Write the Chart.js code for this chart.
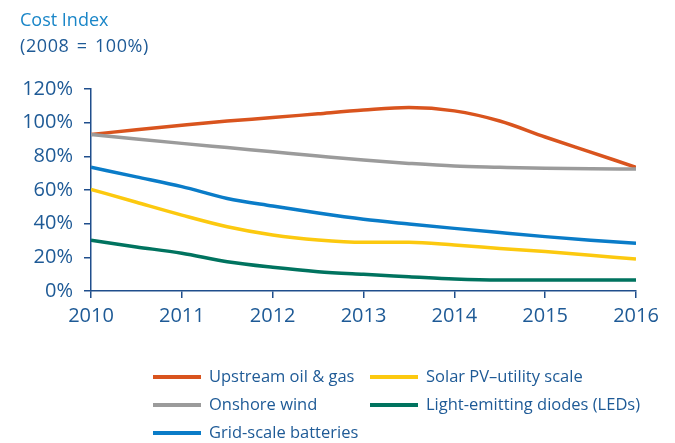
<!DOCTYPE html>
<html lang="en">
<head>
    <meta charset="UTF-8">
    <title>Cost Index</title>
    <script src="https://cdn.jsdelivr.net/npm/chart.js"></script>
    <style>
        body { margin: 0; background: #fff; font-family: "Open Sans", "Noto Sans", sans-serif; }
        #wrap { position: relative; width: 675px; height: 443px; }
        #wrap canvas { position: absolute; left: 0; top: 0; }
        .t1 { position: absolute; left: 20px; top: 7px; font-size: 18px; color: #1a86c8; }
        .t2 { position: absolute; left: 20px; top: 33px; font-size: 18px; letter-spacing: 0.6px; word-spacing: 2px; color: #1e5a96; }
        .leg { position: absolute; font-size: 16.5px; color: #1e5a96; white-space: nowrap; }
        .leg span { display: inline-block; width: 48px; height: 4px; vertical-align: middle; margin-right: 8px; position: relative; top: -1px; }
    </style>
</head>
<body>
<div id="wrap">
    <canvas id="costChart" width="675" height="443"></canvas>
    <div class="t1">Cost Index</div>
    <div class="t2">(2008 = 100%)</div>
    <div id="legend"></div>
</div>
<script>
    // half-year points, 2010 .. 2016
    var years = [2010, 2010.5, 2011, 2011.5, 2012, 2012.5, 2013, 2013.5, 2014, 2014.5, 2015, 2015.5, 2016];
    var oilGas  = [93, 95.8, 98.5, 101, 103, 105.3, 107.5, 109, 107, 101, 91.5, 82.5, 73.5];
    var wind    = [93, 90.3, 87.7, 85.2, 82.7, 80.2, 77.8, 75.8, 74.2, 73.5, 72.9, 72.6, 72.5];
    var battery = [73.5, 67.8, 62, 55, 50.5, 46.3, 42.6, 39.8, 37.2, 34.7, 32.3, 30.2, 28.3];
    var solar   = [60.4, 52.7, 45.1, 38.2, 33.3, 30.3, 28.9, 28.9, 27.3, 25.3, 23.4, 21.2, 19];
    var leds    = [30.1, 26.2, 22.4, 17.4, 14.1, 11.5, 9.9, 8.5, 7.1, 6.5, 6.5, 6.5, 6.5];
    var yTicks  = [0, 20, 40, 60, 80, 100, 120];

    var axisColor = '#1f4e8c';
    var textColor = '#1e5a96';

    function pts(vals) {
        return vals.map(function (v, i) { return { x: years[i], y: v }; });
    }

    var series = [
        { label: 'Upstream oil & gas', data: oilGas, color: '#d9541e' },
        { label: 'Onshore wind', data: wind, color: '#9b9b9b' },
        { label: 'Grid-scale batteries', data: battery, color: '#0a7cc8' },
        { label: 'Solar PV\u2013utility scale', data: solar, color: '#fcc90f' },
        { label: 'Light-emitting diodes (LEDs)', data: leds, color: '#00735f' }
    ];

    var ctx = document.getElementById('costChart').getContext('2d');
    var chart = new Chart(ctx, {
        type: 'line',
        data: {
            datasets: series.map(function (s) {
                return {
                    label: s.label,
                    data: pts(s.data),
                    borderColor: s.color,
                    borderWidth: 3.5,
                    pointRadius: 0,
                    cubicInterpolationMode: 'monotone',
                    fill: false
                };
            }).reverse()
        },
        options: {
            responsive: false,
            animation: false,
            layout: { padding: { left: 0, right: 39, top: 89, bottom: 102 } },
            plugins: { legend: { display: false }, tooltip: { enabled: false } },
            scales: {
                x: {
                    type: 'linear',
                    min: 2010, max: 2016,
                    afterFit: function (s) { s.height = 50; },
                    ticks: {
                        stepSize: 1,
                        color: textColor,
                        font: { family: '"Open Sans", sans-serif', size: 20 },
                        padding: 6,
                        callback: function (v) { return String(v); }
                    },
                    grid: { drawOnChartArea: false, drawTicks: true, tickLength: 7, color: axisColor, lineWidth: 1.5 },
                    border: { color: axisColor, width: 1.5 }
                },
                y: {
                    min: 0, max: 120,
                    afterFit: function (s) { s.width = 91; },
                    afterBuildTicks: function (s) { s.ticks = yTicks.map(function (v) { return { value: v }; }); },
                    ticks: {
                        color: textColor,
                        font: { family: '"Open Sans", sans-serif', size: 20 },
                        padding: 11,
                        callback: function (v) { return v + '%'; }
                    },
                    grid: { drawOnChartArea: false, drawTicks: true, tickLength: 7, color: axisColor, lineWidth: 1.5 },
                    border: { color: axisColor, width: 1.5 }
                }
            }
        }
    });

    // legend laid out in two columns like the original
    var legendPos = [
        [153, 376], [153, 404], [153, 432], [370, 376], [370, 404]
    ];
    var legend = document.getElementById('legend');
    series.forEach(function (s, i) {
        var d = document.createElement('div');
        d.className = 'leg';
        d.style.left = legendPos[i][0] + 'px';
        d.style.top = (legendPos[i][1] - 12) + 'px';
        d.innerHTML = '<span style="background:' + s.color + '"></span>' + s.label;
        legend.appendChild(d);
    });
</script>
</body>
</html>
